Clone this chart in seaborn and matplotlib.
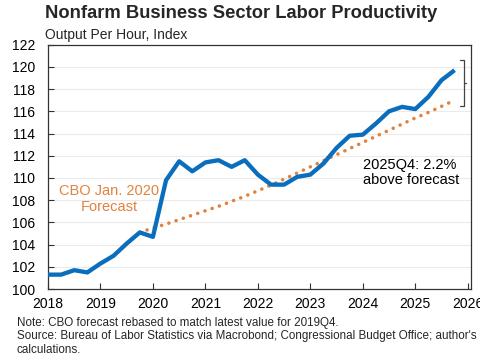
import numpy as np
import pandas as pd
import matplotlib
matplotlib.use("Agg")
import matplotlib.pyplot as plt
import seaborn as sns

# quarterly index, 2018Q1 .. 2025Q4
quarters = [f"{y}Q{q}" for y in range(2018, 2026) for q in range(1, 5)]
productivity = [
    101.3, 101.3, 101.7, 101.5,
    102.3, 103.0, 104.1, 105.1,
    104.7, 109.8, 111.5, 110.6,
    111.4, 111.6, 111.0, 111.6,
    110.3, 109.4, 109.4, 110.1,
    110.3, 111.3, 112.7, 113.8,
    113.9, 114.9, 116.0, 116.4,
    116.2, 117.3, 118.8, 119.7,
]
# CBO Jan. 2020 forecast, rebased to 2019Q4
fcst_quarters = quarters[7:]
cbo_forecast = [
    105.1,
    105.5, 105.85, 106.25, 106.65,
    107.05, 107.45, 107.9, 108.35,
    108.85, 109.35, 109.9, 110.45,
    111.0, 111.55, 112.1, 112.65,
    113.2, 113.75, 114.3, 114.85,
    115.4, 115.9, 116.45, 117.0,
]
year_ticks = list(range(2018, 2027))
y_ticks = list(range(100, 123, 2))


def qpos(q):
    return int(q[:4]) + (int(q[-1]) - 1) / 4


df = pd.DataFrame({"t": [qpos(q) for q in quarters], "value": productivity})
fc = pd.DataFrame({"t": [qpos(q) for q in fcst_quarters], "value": cbo_forecast})

sns.set_theme(style="white")
plt.rcParams["font.family"] = ["Liberation Sans", "DejaVu Sans"]

BLUE = "#0B6EBD"
ORANGE = "#E2823F"

fig = plt.figure(figsize=(4.8, 3.6), dpi=100)
ax = fig.add_axes([0.1, 0.197, 0.881, 0.679])

for y in y_ticks[1:-1]:
    ax.axhline(y, color="#EBEBEB", lw=0.8, zorder=0)

sns.lineplot(data=fc, x="t", y="value", ax=ax, color=ORANGE, lw=2.6,
             linestyle=(0, (0.01, 2.1)), dash_capstyle="round", zorder=2)
sns.lineplot(data=df, x="t", y="value", ax=ax, color=BLUE, lw=3.1,
             solid_capstyle="butt", zorder=3)

ax.set_xlim(2018, 2026.06)
ax.set_ylim(100, 122)
ax.set_xticks(year_ticks)
ax.set_xticklabels([str(y) for y in year_ticks])
ax.set_yticks(y_ticks)
ax.set_xlabel("")
ax.set_ylabel("")
ax.tick_params(axis="both", direction="in", length=4, width=0.8,
               colors="#333333", labelsize=10, labelcolor="black")
ax.tick_params(axis="x", bottom=True, pad=6)
ax.tick_params(axis="y", left=True, pad=9)
for s in ax.spines.values():
    s.set_color("#333333")
    s.set_linewidth(0.9)

# bracket showing gap at end
bx = 2025.92
top, bot = 120.6, 116.5
ax.plot([bx - 0.07, bx, bx, bx - 0.07], [top, top, bot, bot], color="#444444", lw=0.9,
        clip_on=False)
ax.plot([bx, bx + 0.05], [(top + bot) / 2] * 2, color="#444444", lw=0.9, clip_on=False)

ax.text(2019.16, 108.1, "CBO Jan. 2020\nForecast", color=ORANGE, ha="center",
        va="center", fontsize=10.5, linespacing=1.15)
ax.text(2024.0, 110.5, "2025Q4: 2.2%\nabove forecast", color="black", ha="left",
        va="center", fontsize=10.5, linespacing=1.15)

fig.text(0.094, 0.962, "Nonfarm Business Sector Labor Productivity", fontsize=13.2,
         fontweight="bold", ha="left", va="center")
fig.text(0.094, 0.902, "Output Per Hour, Index", fontsize=10, ha="left", va="center")

fig.text(0.035, 0.103, "Note: CBO forecast rebased to match latest value for 2019Q4.",
         fontsize=8.4, ha="left", va="center")
fig.text(0.035, 0.067,
         "Source: Bureau of Labor Statistics via Macrobond; Congressional Budget Office; author's",
         fontsize=8.4, ha="left", va="center")
fig.text(0.035, 0.028, "calculations.", fontsize=8.4, ha="left", va="center")

fig.savefig("out.png", dpi=100)
